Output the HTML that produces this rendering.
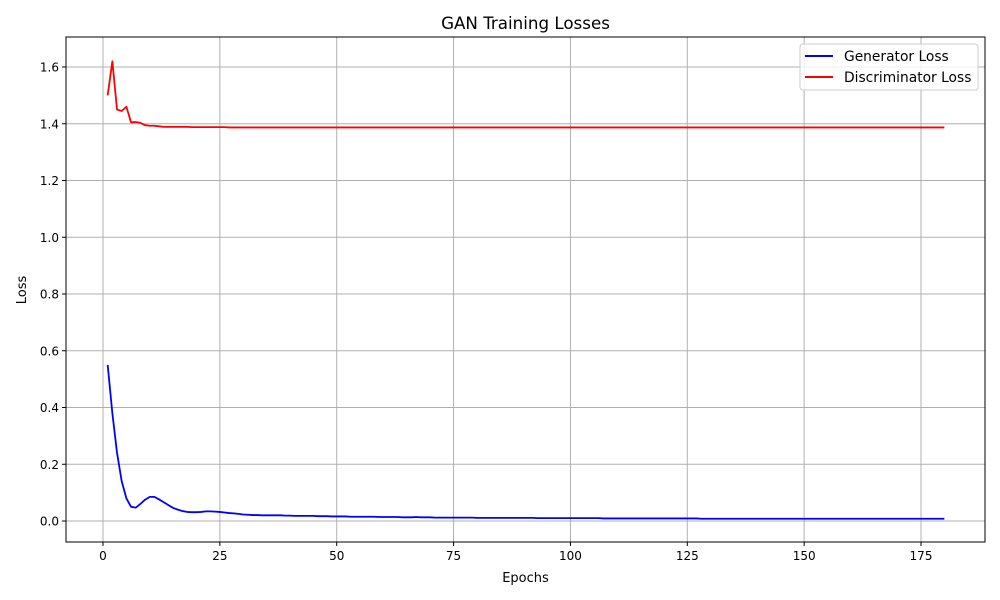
<!DOCTYPE html>
<html><head><meta charset="utf-8"><style>
html,body{margin:0;padding:0;background:#fff;}
svg{display:block;font-family:"DejaVu Sans","Liberation Sans",sans-serif;}
</style></head><body>
<svg id="chart" width="1000" height="600" viewBox="0 0 1000 600" xmlns="http://www.w3.org/2000/svg">
<rect width="1000" height="600" fill="#fff"/>
<g id="grid"></g>
<g id="series"></g>
<rect x="66" y="37" width="919" height="505" fill="none" stroke="#000" stroke-width="1"/>
<g id="ticks"></g>
<text x="525.5" y="29" font-size="16.7" text-anchor="middle">GAN Training Losses</text>
<text x="525.5" y="582" font-size="13" text-anchor="middle">Epochs</text>
<text x="26" y="290" font-size="13" text-anchor="middle" transform="rotate(-90 26 290)">Loss</text>
<g>
<rect x="800" y="44" width="178" height="46" rx="3" fill="#fff" fill-opacity="0.8" stroke="#ccc"/>
<line x1="805" y1="56" x2="833" y2="56" stroke="#0000ff" stroke-width="2"/>
<text x="844" y="61" font-size="13.8">Generator Loss</text>
<line x1="805" y1="77" x2="833" y2="77" stroke="#ff0000" stroke-width="2"/>
<text x="844" y="82" font-size="13.8">Discriminator Loss</text>
</g>
</svg>
<script>
const xTicks=[0,25,50,75,100,125,150,175];
const yTicks=[0.0,0.2,0.4,0.6,0.8,1.0,1.2,1.4,1.6];
const genLoss=[0.55,0.38,0.24,0.14,0.08,0.05,0.047,0.06,0.075,0.085,0.085,0.076,0.066,0.056,0.046,0.04,0.035,0.032,0.031,0.031,0.032,0.034,0.034,0.033,0.032,0.030,0.028,0.027,0.025,0.023,
0.022,0.021,0.021,0.020,0.020,0.020,0.020,0.020,0.019,0.019,0.018,0.018,0.018,0.018,0.018,0.017,0.017,0.017,0.016,0.016,0.016,0.016,0.015,0.015,0.015,0.015,0.015,0.015,0.014,0.014,
0.014,0.014,0.014,0.013,0.013,0.013,0.014,0.013,0.013,0.013,0.012,0.012,0.012,0.012,0.012,0.012,0.012,0.012,0.012,0.011,0.011,0.011,0.011,0.011,0.011,0.011,0.011,0.011,0.011,0.011,
0.011,0.011,0.010,0.010,0.010,0.010,0.010,0.010,0.010,0.010,0.010,0.010,0.010,0.010,0.010,0.010,0.009,0.009,0.009,0.009,0.009,0.009,0.009,0.009,0.009,0.009,0.009,0.009,0.009,0.009,
0.009,0.009,0.009,0.009,0.009,0.009,0.009,0.008,0.008,0.008,0.008,0.008,0.008,0.008,0.008,0.008,0.008,0.008,0.008,0.008,0.008,0.008,0.008,0.008,0.008,0.008,0.008,0.008,0.008,0.008,
0.008,0.008,0.008,0.008,0.008,0.008,0.008,0.008,0.008,0.008,0.008,0.008,0.008,0.008,0.008,0.008,0.008,0.008,0.008,0.008,0.008,0.008,0.008,0.008,0.008,0.008,0.008,0.008,0.008,0.008];
const discLoss=[1.50,1.62,1.45,1.445,1.46,1.405,1.406,1.403,1.395,1.393,1.393,1.391,1.389,1.389,1.389,1.389,1.389,1.389,1.388,1.388,1.388,1.388,1.388,1.388,1.388,1.388,1.387,1.387,1.387,1.387];
while(discLoss.length<genLoss.length) discLoss.push(1.387);
const X=v=>103+(v)*(818/175);
const Y=v=>521-v*283.75;
const NS="http://www.w3.org/2000/svg";
const grid=document.getElementById('grid'),ticks=document.getElementById('ticks'),series=document.getElementById('series');
function mk(tag,attrs,parent){const e=document.createElementNS(NS,tag);for(const k in attrs)e.setAttribute(k,attrs[k]);parent.appendChild(e);return e;}
xTicks.forEach(t=>{
  const gl=mk('line',{x1:X(t),x2:X(t),y1:37,y2:542,stroke:'#b0b0b0','stroke-width':1},grid);
  
  
  mk('line',{x1:X(t),x2:X(t),y1:542,y2:546,stroke:'#000'},ticks);
  const tx=mk('text',{x:X(t),y:560,'font-size':12,'text-anchor':'middle'},ticks);
  tx.textContent=t;
  
  
});
yTicks.forEach(t=>{
  const gl=mk('line',{x1:66,x2:985,y1:Y(t),y2:Y(t),stroke:'#b0b0b0','stroke-width':1},grid);
  
  
  mk('line',{x1:62,x2:66,y1:Y(t),y2:Y(t),stroke:'#000'},ticks);
  const tx=mk('text',{x:59,y:Y(t)+4.5,'font-size':12,'text-anchor':'end'},ticks);
  tx.textContent=t.toFixed(1);
  
  
});
function line(arr,color,name){
  const d=arr.map((v,i)=>(i?'L':'M')+X(i+1).toFixed(2)+','+Y(v).toFixed(2)).join('');
  const p=mk('path',{d:d,fill:'none',stroke:color,'stroke-width':1.8,'stroke-linejoin':'round'},series);
  
  
}
line(genLoss,'#0000ff','generator-loss-line');
line(discLoss,'#ff0000','discriminator-loss-line');
</script>
</body></html>
